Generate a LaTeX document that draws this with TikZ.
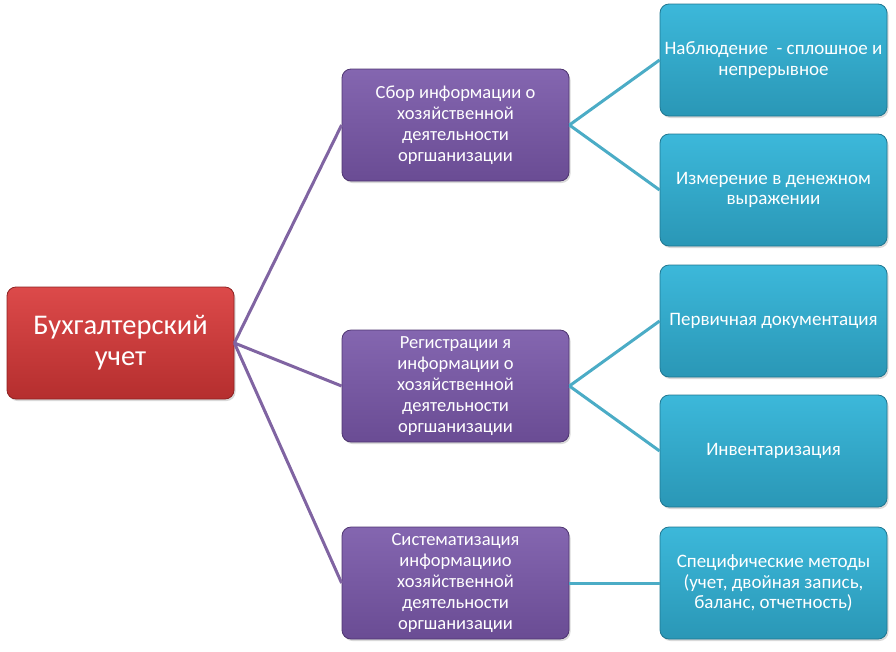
\documentclass[tikz,border=0pt]{standalone}
\usepackage{fontspec}
\setmainfont{Carlito}
\usetikzlibrary{shadows}
\definecolor{redtop}{HTML}{DC4A4A}
\definecolor{redbot}{HTML}{B52E2E}
\definecolor{redborder}{HTML}{8E2222}
\definecolor{purtop}{HTML}{8466B0}
\definecolor{purbot}{HTML}{6A4C94}
\definecolor{purborder}{HTML}{4E3570}
\definecolor{cyantop}{HTML}{3CB8DA}
\definecolor{cyanbot}{HTML}{2A97B6}
\definecolor{cyanborder}{HTML}{1E7690}
\definecolor{purline}{HTML}{8064A2}
\definecolor{cyanline}{HTML}{4BACC6}
\tikzset{
  box/.style={rectangle, rounded corners=9pt, minimum width=227pt, minimum height=112pt,
    align=center, text=white, inner sep=2pt, line width=0.8pt,
    drop shadow={shadow xshift=1.5pt, shadow yshift=-2pt, opacity=0.3}},
  rootbox/.style={box, draw=redborder, top color=redtop, bottom color=redbot, font=\fontsize{28.5}{31}\selectfont},
  midbox/.style={box, draw=purborder, top color=purtop, bottom color=purbot, font=\fontsize{18.5}{21}\selectfont},
  leafbox/.style={box, draw=cyanborder, top color=cyantop, bottom color=cyanbot, font=\fontsize{19}{20.5}\selectfont},
  plink/.style={draw=purline, line width=3pt},
  clink/.style={draw=cyanline, line width=3pt}
}
\begin{document}
\begin{tikzpicture}[x=1pt,y=-1pt]
\useasboundingbox (0,0) rectangle (896,651);
\node[rootbox] (root) at (120.5,343) {Бухгалтерский\\учет};
\node[midbox] (m1) at (455.5,125) {Сбор информации о\\хозяйственной\\деятельности\\оргшанизации};
\node[midbox] (m2) at (455.5,386) {Регистрации я\\информации о\\хозяйственной\\деятельности\\оргшанизации};
\node[midbox] (m3) at (455.5,583) {Систематизация\\информациио\\хозяйственной\\деятельности\\оргшанизации};
\node[leafbox] (r1) at (773.5,60) {Наблюдение~ - сплошное и\\непрерывное};
\node[leafbox] (r2) at (773.5,190) {Измерение в денежном\\выражении};
\node[leafbox] (r3) at (773.5,321) {Первичная документация};
\node[leafbox] (r4) at (773.5,451) {Инвентаризация};
\node[leafbox] (r5) at (773.5,583) {Специфические методы\\(учет, двойная запись,\\баланс, отчетность)};
\draw[plink] (root.east) -- (m1.west);
\draw[plink] (root.east) -- (m2.west);
\draw[plink] (root.east) -- (m3.west);
\draw[clink] (m1.east) -- (r1.west);
\draw[clink] (m1.east) -- (r2.west);
\draw[clink] (m2.east) -- (r3.west);
\draw[clink] (m2.east) -- (r4.west);
\draw[clink] (m3.east) -- (r5.west);
\end{tikzpicture}
\end{document}
